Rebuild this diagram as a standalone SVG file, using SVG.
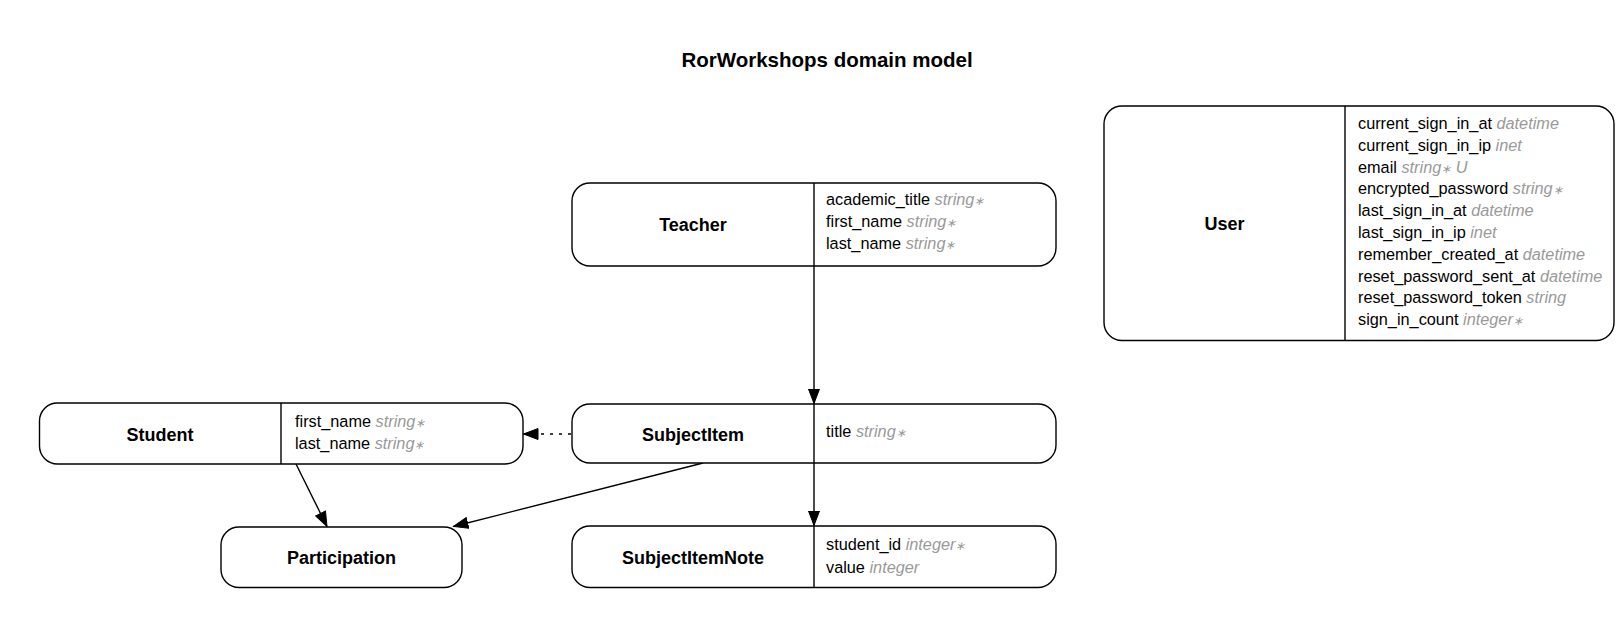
<svg xmlns="http://www.w3.org/2000/svg" width="1624" height="627" viewBox="0 0 1624 627">
<style>
.box{fill:#fff;stroke:#000;stroke-width:1.4}
.div{stroke:#000;stroke-width:1.4}
.title{font-family:"Liberation Sans",Arial,sans-serif;font-weight:bold;font-size:20.5px;fill:#000}
.name{font-family:"Liberation Sans",Arial,sans-serif;font-weight:bold;font-size:18px;fill:#000}
.attr{font-family:"Liberation Sans",Arial,sans-serif;font-size:16.3px;fill:#000}
.t{fill:#999;font-style:italic}
.s{font-size:12px}
.edge{fill:none;stroke:#000;stroke-width:1.4}
.dot{stroke-dasharray:3,6}
</style>
<defs>
<marker id="arr" markerUnits="userSpaceOnUse" markerWidth="16" markerHeight="12" refX="15" refY="6" orient="auto">
<path d="M0.5,0.5 L15,6 L0.5,11.5 z" fill="#000" stroke="#000" stroke-width="1"/>
</marker>
</defs>
<rect width="1624" height="627" fill="#fff"/>
<text class="title" x="827" y="67" text-anchor="middle">RorWorkshops domain model</text>

<g id="connectors">
<line class="edge" x1="814" y1="266" x2="814" y2="403.5" marker-end="url(#arr)"/>
<line class="edge" x1="814" y1="463" x2="814" y2="525.5" marker-end="url(#arr)"/>
<line class="edge dot" x1="571" y1="434" x2="523.5" y2="434" marker-end="url(#arr)"/>
<line class="edge" x1="296" y1="464" x2="327" y2="526.5" marker-end="url(#arr)"/>
<line class="edge" x1="703" y1="463" x2="453.5" y2="526.5" marker-end="url(#arr)"/>
</g>

<g id="Teacher">
<rect class="box" x="572" y="183" width="484" height="83" rx="18"/>
<line class="div" x1="814" y1="183" x2="814" y2="266"/>
<text class="name" x="693" y="230.5" text-anchor="middle">Teacher</text>
<text class="attr" x="826" y="205">academic_title <tspan class="t">string<tspan class="s">∗</tspan></tspan></text>
<text class="attr" x="826" y="227">first_name <tspan class="t">string<tspan class="s">∗</tspan></tspan></text>
<text class="attr" x="826" y="249">last_name <tspan class="t">string<tspan class="s">∗</tspan></tspan></text>
</g>

<g id="User">
<rect class="box" x="1104" y="106" width="510" height="234.5" rx="18"/>
<line class="div" x1="1345" y1="106" x2="1345" y2="340.5"/>
<text class="name" x="1224.5" y="229.5" text-anchor="middle">User</text>
<text class="attr" x="1358" y="129">current_sign_in_at <tspan class="t">datetime</tspan></text>
<text class="attr" x="1358" y="150.8">current_sign_in_ip <tspan class="t">inet</tspan></text>
<text class="attr" x="1358" y="172.6">email <tspan class="t">string<tspan class="s">∗</tspan> U</tspan></text>
<text class="attr" x="1358" y="194.4">encrypted_password <tspan class="t">string<tspan class="s">∗</tspan></tspan></text>
<text class="attr" x="1358" y="216.2">last_sign_in_at <tspan class="t">datetime</tspan></text>
<text class="attr" x="1358" y="238">last_sign_in_ip <tspan class="t">inet</tspan></text>
<text class="attr" x="1358" y="259.8">remember_created_at <tspan class="t">datetime</tspan></text>
<text class="attr" x="1358" y="281.6">reset_password_sent_at <tspan class="t">datetime</tspan></text>
<text class="attr" x="1358" y="303.4">reset_password_token <tspan class="t">string</tspan></text>
<text class="attr" x="1358" y="325.2">sign_in_count <tspan class="t">integer<tspan class="s">∗</tspan></tspan></text>
</g>

<g id="Student">
<rect class="box" x="39.5" y="403" width="483.5" height="61" rx="18"/>
<line class="div" x1="281" y1="403" x2="281" y2="464"/>
<text class="name" x="160" y="440.5" text-anchor="middle">Student</text>
<text class="attr" x="295" y="427">first_name <tspan class="t">string<tspan class="s">∗</tspan></tspan></text>
<text class="attr" x="295" y="448.8">last_name <tspan class="t">string<tspan class="s">∗</tspan></tspan></text>
</g>

<g id="SubjectItem">
<rect class="box" x="572" y="404" width="484" height="59" rx="18"/>
<line class="div" x1="814" y1="404" x2="814" y2="463"/>
<text class="name" x="693" y="440.5" text-anchor="middle">SubjectItem</text>
<text class="attr" x="826" y="437">title <tspan class="t">string<tspan class="s">∗</tspan></tspan></text>
</g>

<g id="Participation">
<rect class="box" x="221" y="527" width="241" height="60.5" rx="18"/>
<text class="name" x="341.5" y="563.5" text-anchor="middle">Participation</text>
</g>

<g id="SubjectItemNote">
<rect class="box" x="572" y="526" width="484" height="61.5" rx="18"/>
<line class="div" x1="814" y1="526" x2="814" y2="587.5"/>
<text class="name" x="693" y="563.5" text-anchor="middle">SubjectItemNote</text>
<text class="attr" x="826" y="549.5">student_id <tspan class="t">integer<tspan class="s">∗</tspan></tspan></text>
<text class="attr" x="826" y="572.5">value <tspan class="t">integer</tspan></text>
</g>
</svg>
